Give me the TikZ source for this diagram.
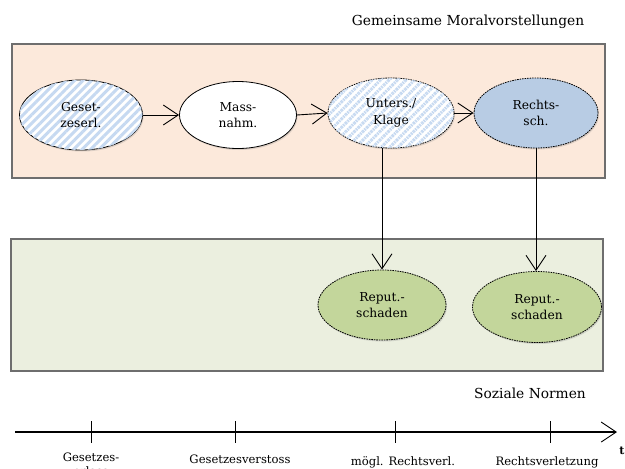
\documentclass[tikz,border=0pt]{standalone}
\usepackage{fontspec}
\setmainfont{DejaVu Serif}
\usetikzlibrary{arrows.meta,patterns.meta,shadows,shapes.geometric}
\definecolor{peach}{HTML}{FCE9DB}
\definecolor{sage}{HTML}{EBEFDF}
\definecolor{boxline}{HTML}{6E6E6E}
\definecolor{stripe}{HTML}{C6D9F1}
\definecolor{rblue}{HTML}{B8CCE4}
\definecolor{rgreen}{HTML}{C3D69B}
\tikzset{
  panel/.style={draw=boxline,line width=1.2pt},
  ell/.style={ellipse,draw=black,line width=0.8pt,align=center,font=\fontsize{12.3}{16.5}\selectfont,inner sep=0pt,
     drop shadow={shadow xshift=1pt,shadow yshift=-1.5pt,opacity=0.25}},
  dotb/.style={dash pattern=on 1.6pt off 0.9pt},
  striped/.style={fill=white,postaction={pattern={Lines[angle=45,distance=6pt,line width=3pt]},pattern color=stripe}},
  flow/.style={-{Straight Barb[length=15pt,width=20pt,line width=0.9pt]},line width=0.9pt},
  lbl/.style={font=\fontsize{13.8}{16}\selectfont},
  tl/.style={font=\fontsize{11.6}{14}\selectfont},
}
\begin{document}
\begin{tikzpicture}[x=1pt,y=-1pt]
\useasboundingbox (0,0) rectangle (625,469);
\fill[white] (0,0) rectangle (625,469);
% panels
\draw[panel,fill=peach] (12,44) rectangle (605,178);
\draw[panel,fill=sage] (11,239) rectangle (603,371);
\node[lbl] (moral) at (468,22) {Gemeinsame Moralvorstellungen};
\node[lbl] (soz) at (530,393) {Soziale Normen};
% ellipses
\node[ell,striped,minimum width=123pt,minimum height=70pt] (g) at (81,115) {Geset-\\zeserl.};
\node[ell,fill=white,minimum width=117pt,minimum height=67pt] (m) at (238,115) {Mass-\\nahm.};
\node[ell,striped,dotb,minimum width=126pt,minimum height=70pt] (u) at (391,113) {Unters./\\Klage};
\node[ell,fill=rblue,dotb,minimum width=124pt,minimum height=70pt] (r) at (536,113) {Rechts-\\sch.};
\node[ell,fill=rgreen,dotb,minimum width=128pt,minimum height=70pt] (p1) at (382,305) {Reput.-\\schaden};
\node[ell,fill=rgreen,dotb,minimum width=129pt,minimum height=71pt] (p2) at (537,307) {Reput.-\\schaden};
% connectors
\draw[flow] (g.east) -- (m.west);
\draw[flow] (m.east) -- (u.west);
\draw[flow] (u.east) -- (r.west);
\draw[flow] (u.south -| p1.north) -- (p1.north);
\draw[flow] (r.south) -- (r.south |- p2.north);
% timeline
\coordinate (t0) at (15,432);
\coordinate (t1) at (617,432);
\draw[flow,line width=1.1pt] (t0) -- (t1);
\foreach \x/\n in {91/a,235/b,395/c,550/d}{
  \coordinate (k\n) at (\x,432);
  \draw[line width=0.9pt] ([yshift=11pt]k\n) -- ([yshift=-11pt]k\n);
}
\node[tl,align=center,anchor=north] (la) at (91,449) {Gesetzes-\\erlass};
\node[tl,anchor=north] (lb) at (240,451) {Gesetzesverstoss};
\node[tl,anchor=north] (lc) at (403,453) {mögl. Rechtsverl.};
\node[tl,anchor=north] (ld) at (547,453) {Rechtsverletzung};
\node[font=\bfseries\fontsize{11}{13}\selectfont] (t) at (622,451) {t};
\end{tikzpicture}
\end{document}
